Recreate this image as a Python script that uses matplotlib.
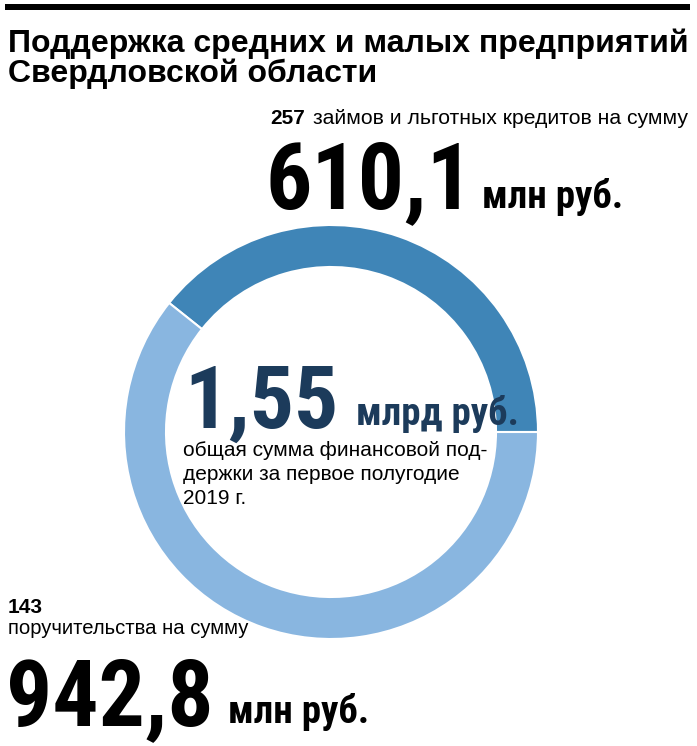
import matplotlib
matplotlib.use("Agg")
import matplotlib.pyplot as plt
from matplotlib import font_manager as fm
from matplotlib.patches import Rectangle

# ---- data ----
title_lines = ["Поддержка средних и малых предприятий", "Свердловской области"]
seg_labels = ["займы и льготные кредиты", "поручительства"]
seg_values = [610.1, 942.8]
seg_counts = [257, 143]
seg_colors = ["#3f85b7", "#89b6e0"]
total_label = "1,55"
total_unit = "млрд руб."
total_note = ["общая сумма финансовой под-", "держки за первое полугодие", "2019 г."]
loan_text = "займов и льготных кредитов на сумму"
guar_text = "поручительства на сумму"
value_labels = ["610,1", "942,8"]
unit_label = "млн руб."

available = {f.name for f in fm.fontManager.ttflist}
def pick(cands):
    for c in cands:
        if c in available:
            return c
    return "DejaVu Sans"

COND = pick(["Liberation Sans Narrow", "DejaVu Sans Condensed", "Roboto Condensed", "Liberation Sans"])
BODY = pick(["Liberation Sans", "DejaVu Sans"])

W, H = 697, 746
fig = plt.figure(figsize=(W / 100, H / 100), dpi=100)
ax = fig.add_axes([0, 0, 1, 1])

def Y(y):
    return H - y

def txt(x, y, s, size, weight="normal", family=BODY, color="black"):
    ax.text(x, Y(y), s, fontsize=size, fontweight=weight, family=family,
            color=color, ha="left", va="baseline")

# donut
cx, cy, R, wdt = 331, 432, 207, 42
ax.pie(seg_values, colors=seg_colors, startangle=0, counterclock=True,
       center=(cx, Y(cy)), radius=R,
       wedgeprops=dict(width=wdt, edgecolor="white", linewidth=1.5))

ax.set_xlim(0, W)
ax.set_ylim(0, H)
ax.set_aspect("equal")
ax.axis("off")

# top rule
ax.add_patch(Rectangle((5, Y(10)), 685, 6.5, color="black", lw=0))

# title
txt(8, 52, title_lines[0], 23.0, "bold", BODY)
txt(8, 82, title_lines[1], 23.0, "bold", BODY)

# top annotation
txt(270, 124, str(seg_counts[0]), 15, "bold", BODY)
txt(313, 124, loan_text, 15.2, "normal", BODY)
txt(266, 208, value_labels[0], 66, "bold", COND)
txt(482, 208, unit_label, 28, "bold", COND)

# center
dark = "#1c3b5b"
txt(184, 428, total_label, 63, "bold", COND, dark)
txt(356, 425, total_unit, 28, "bold", COND, dark)
for i, line in enumerate(total_note):
    txt(183, 456 + i * 24, line, 15, "normal", BODY)

# bottom annotation
txt(8, 613, str(seg_counts[1]), 15, "bold", BODY)
txt(8, 634, guar_text, 14.6, "normal", BODY)
txt(6, 725, value_labels[1], 66, "bold", COND)
txt(228, 723, unit_label, 28, "bold", COND)

fig.savefig("out.png", dpi=100, facecolor="white")
